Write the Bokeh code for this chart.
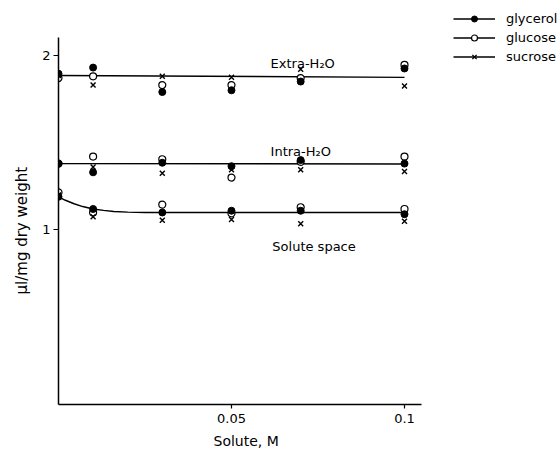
from bokeh.plotting import figure
from bokeh.models import FixedTicker, Legend, LegendItem, ColumnDataSource, Range1d, Title
from bokeh.embed import file_html
from bokeh.resources import INLINE
from bokeh.core.properties import value

# ---- data ----
solute_M = [0.0, 0.01, 0.03, 0.05, 0.07, 0.1]

extra_glycerol = [1.895, 1.93, 1.79, 1.80, 1.85, 1.925]
extra_glucose = [1.87, 1.88, 1.83, 1.83, 1.87, 1.945]
extra_sucrose = [1.885, 1.83, 1.88, 1.875, 1.92, 1.825]

intra_glycerol = [1.38, 1.33, 1.385, 1.365, 1.40, 1.38]
intra_glucose = [1.38, 1.42, 1.405, 1.30, 1.39, 1.42]
intra_sucrose = [1.38, 1.36, 1.325, 1.345, 1.345, 1.335]

space_glycerol = [1.19, 1.12, 1.10, 1.11, 1.11, 1.09]
space_glucose = [1.215, 1.10, 1.145, 1.095, 1.13, 1.12]
space_sucrose = [1.20, 1.075, 1.055, 1.06, 1.035, 1.05]

# fitted curves
extra_fit_x = [0.0, 0.1]
extra_fit_y = [1.885, 1.874]
intra_fit_x = [0.0, 0.1]
intra_fit_y = [1.38, 1.378]
space_fit_x = [0.0, 0.002, 0.0045, 0.007, 0.01, 0.013, 0.016, 0.02, 0.025, 0.03, 0.05, 0.07, 0.1]
space_fit_y = [1.19, 1.17, 1.15, 1.134, 1.12, 1.112, 1.106, 1.102, 1.10, 1.10, 1.10, 1.10, 1.10]

curve_labels = ["Extra-H\u2082O", "Intra-H\u2082O", "Solute space"]
curve_label_x = [0.0613, 0.0613, 0.0618]
curve_label_y = [1.955, 1.452, 0.903]

series_names = ["glycerol", "glucose", "sucrose"]
x_ticks = [0.05, 0.1]
x_tick_labels = ["0.05", "0.1"]
y_ticks = [1, 2]
y_tick_labels = ["1", "2"]
x_label = "Solute, M"
y_label = "\u00b5l/mg dry weight"

FONT = "DejaVu Sans"

p = figure(width=558, height=453, output_backend="svg", toolbar_location=None,
           x_range=Range1d(0, 0.14451), y_range=Range1d(0, 2.3143),
           min_border_left=58, min_border_right=0, min_border_top=0, min_border_bottom=48)
p.outline_line_color = None
p.grid.visible = False
p.background_fill_color = "white"

# axes
for ax in (p.xaxis, p.yaxis):
    ax.axis_line_color = "black"
    ax.axis_line_width = 1.5
    ax.major_tick_line_color = "black"
    ax.major_tick_line_width = 1.2
    ax.major_tick_in = 0
    ax.major_tick_out = 5
    ax.minor_tick_line_color = None
    ax.major_label_text_font = FONT
    ax.major_label_text_font_size = "13px"
    ax.major_label_text_color = "black"

p.xaxis.ticker = FixedTicker(ticks=x_ticks)
p.xaxis.major_label_overrides = {t: l for t, l in zip(x_ticks, x_tick_labels)}
p.xaxis.bounds = (0, 0.105)
p.xaxis.major_tick_out = 4
p.xaxis.major_label_standoff = 5

p.yaxis.ticker = FixedTicker(ticks=y_ticks)
p.yaxis.major_label_overrides = {t: l for t, l in zip(y_ticks, y_tick_labels)}
p.yaxis.bounds = (0, 2.1)
p.yaxis.major_label_standoff = 3

# axis titles
p.add_layout(Title(text=y_label, align="left", offset=110, standoff=18,
                   text_font=FONT, text_font_size="15px", text_font_style="normal",
                   text_color="black"), "left")
p.add_layout(Title(text=x_label, align="left", offset=155, standoff=10,
                   text_font=FONT, text_font_size="14px", text_font_style="normal",
                   text_color="black"), "below")

# fitted curves
l_extra = p.line(extra_fit_x, extra_fit_y, line_color="black", line_width=1.4)
p.line(intra_fit_x, intra_fit_y, line_color="black", line_width=1.4)
p.line(space_fit_x, space_fit_y, line_color="black", line_width=1.4)

xs = solute_M * 3
src_glu = ColumnDataSource(dict(x=xs, y=extra_glucose + intra_glucose + space_glucose))
src_gly = ColumnDataSource(dict(x=xs, y=extra_glycerol + intra_glycerol + space_glycerol))
src_suc = ColumnDataSource(dict(x=xs, y=extra_sucrose + intra_sucrose + space_sucrose))

r_glu = p.scatter("x", "y", source=src_glu, marker="circle", size=7,
                  fill_color="white", line_color="black", line_width=1.2)
r_gly = p.scatter("x", "y", source=src_gly, marker="circle", size=7,
                  fill_color="black", line_color="black", line_width=1)
r_suc = p.scatter("x", "y", source=src_suc, marker="x", size=7,
                  line_color="black", line_width=1.4)

# curve labels
p.text(x=curve_label_x, y=curve_label_y, text=curve_labels,
       text_font=value(FONT), text_font_size="13px", text_color="black",
       text_align="left", text_baseline="alphabetic")

# legend
legend = Legend(items=[LegendItem(label=series_names[0], renderers=[l_extra, r_gly]),
                       LegendItem(label=series_names[1], renderers=[l_extra, r_glu]),
                       LegendItem(label=series_names[2], renderers=[l_extra, r_suc])],
                location=(395, 340), glyph_width=42, glyph_height=15, label_height=15,
                spacing=4, padding=0, margin=0, label_standoff=11,
                border_line_color=None, background_fill_alpha=0,
                label_text_font=FONT, label_text_font_size="13px", label_text_color="black")
p.add_layout(legend)

open("out.html", "w").write(file_html(p, INLINE))
